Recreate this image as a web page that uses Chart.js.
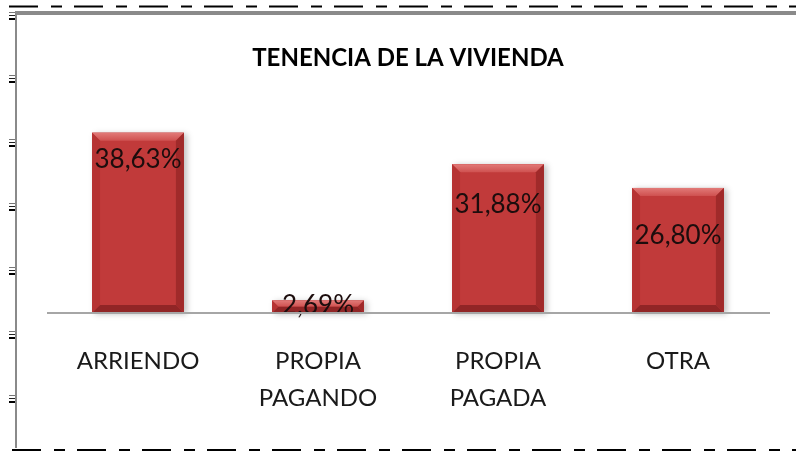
<!DOCTYPE html>
<html>
<head>
<meta charset="utf-8">
<script src="https://cdn.jsdelivr.net/npm/chart.js@4/dist/chart.umd.min.js"></script>
<style>
html,body{margin:0;padding:0;background:#fff;}
#wrap{position:relative;width:796px;height:451px;}
</style>
</head>
<body>
<div id="wrap"><canvas id="c" width="796" height="451"></canvas></div>
<script>
const titleText = 'TENENCIA DE LA VIVIENDA';
const categories = [['ARRIENDO'], ['PROPIA', 'PAGANDO'], ['PROPIA', 'PAGADA'], ['OTRA']];
const values = [38.63, 2.69, 31.88, 26.80];
const valueLabels = ['38,63%', '2,69%', '31,88%', '26,80%'];

const framePlugin = {
  id: 'frame',
  beforeDraw(chart) {
    const ctx = chart.ctx;
    ctx.save();
    ctx.fillStyle = '#fff';
    ctx.fillRect(0, 0, chart.width, chart.height);
    ctx.strokeStyle = '#000';
    ctx.lineWidth = 2;
    ctx.setLineDash([29, 13, 11, 12]);
    ctx.beginPath();
    ctx.moveTo(9, 6.5); ctx.lineTo(796, 6.5);
    ctx.moveTo(12, 450); ctx.lineTo(796, 450);
    ctx.stroke();
    ctx.setLineDash([]);
    ctx.fillStyle = '#8a8a8a';
    ctx.fillRect(15, 11, 781, 4);
    ctx.fillRect(15, 11, 2, 437);
    [16, 79, 143, 207, 271, 335, 399].forEach(c => {
      ctx.fillStyle = '#777';
      ctx.fillRect(9, c - 4, 6, 1);
      ctx.fillStyle = '#222';
      ctx.fillRect(9, c - 1, 6, 1);
      ctx.fillStyle = '#000';
      ctx.fillRect(9, c + 2, 6, 2);
    });
    ctx.fillStyle = '#000';
    ctx.font = 'bold 24px Lato';
    ctx.textAlign = 'center';
    ctx.textBaseline = 'middle';
    ctx.fillText(titleText, 408, 58);
    ctx.restore();
  },
  beforeDatasetsDraw(chart) {
    const ctx = chart.ctx;
    const meta = chart.getDatasetMeta(0);
    ctx.save();
    meta.data.forEach(bar => {
      const w = bar.width;
      ctx.shadowColor = 'rgba(0,0,0,0.25)';
      ctx.shadowBlur = 6;
      ctx.shadowOffsetX = 3;
      ctx.shadowOffsetY = 1;
      ctx.fillStyle = '#c13a3a';
      ctx.fillRect(bar.x - w / 2, bar.y, w, bar.base - bar.y);
    });
    ctx.restore();
  },
  afterDatasetsDraw(chart) {
    const ctx = chart.ctx;
    const meta = chart.getDatasetMeta(0);
    const offs = chart.options.plugins.frame.labelOffsets;
    ctx.save();
    meta.data.forEach((bar, i) => {
      const w = bar.width;
      const l = bar.x - w / 2, r = bar.x + w / 2, t = bar.y, b = bar.base;
      const bv = Math.min(8, (b - t) / 2);
      const g = ctx.createLinearGradient(0, t, 0, t + bv);
      g.addColorStop(0, '#e27a78');
      g.addColorStop(1, '#cf5150');
      ctx.fillStyle = g;
      ctx.beginPath();
      ctx.moveTo(l, t); ctx.lineTo(r, t); ctx.lineTo(r - bv, t + bv); ctx.lineTo(l + bv, t + bv); ctx.closePath(); ctx.fill();
      ctx.fillStyle = '#b63333';
      ctx.beginPath();
      ctx.moveTo(l, t); ctx.lineTo(l + bv, t + bv); ctx.lineTo(l + bv, b - bv); ctx.lineTo(l, b); ctx.closePath(); ctx.fill();
      ctx.fillStyle = '#a02a2a';
      ctx.beginPath();
      ctx.moveTo(r, t); ctx.lineTo(r - bv, t + bv); ctx.lineTo(r - bv, b - bv); ctx.lineTo(r, b); ctx.closePath(); ctx.fill();
      ctx.fillStyle = '#912526';
      ctx.beginPath();
      ctx.moveTo(l, b); ctx.lineTo(r, b); ctx.lineTo(r - bv, b - bv); ctx.lineTo(l + bv, b - bv); ctx.closePath(); ctx.fill();
      ctx.fillStyle = '#1c0d0d';
      ctx.font = '26px Lato';
      ctx.textAlign = 'center';
      ctx.textBaseline = 'middle';
      ctx.fillText(valueLabels[i], bar.x, t + offs[i]);
    });
    const xs = chart.scales.x;
    ctx.fillStyle = '#a6a6a6';
    ctx.fillRect(47, chart.chartArea.bottom - 1, 723, 2);
    ctx.fillStyle = '#1a1a1a';
    ctx.font = '24px Lato';
    ctx.textAlign = 'center';
    ctx.textBaseline = 'middle';
    categories.forEach((lines, i) => {
      const x = xs.getPixelForValue(i);
      lines.forEach((s, j) => ctx.fillText(s, x, 361 + j * 37));
    });
    ctx.restore();
  }
};

new Chart(document.getElementById('c'), {
  type: 'bar',
  data: {
    labels: categories.map(c => c.join(' ')),
    datasets: [{
      data: values,
      backgroundColor: '#c13a3a',
      borderWidth: 0,
      barPercentage: 0.51,
      categoryPercentage: 1.0
    }]
  },
  options: {
    responsive: false,
    animation: false,
    events: [],
    layout: { padding: { left: 48, right: 28, top: 103, bottom: 138 } },
    scales: {
      x: { display: false },
      y: { display: false, min: 0, max: 45 }
    },
    plugins: {
      legend: { display: false },
      tooltip: { enabled: false },
      frame: { labelOffsets: [27, 5, 40, 48] }
    }
  },
  plugins: [framePlugin]
});
</script>
</body>
</html>
